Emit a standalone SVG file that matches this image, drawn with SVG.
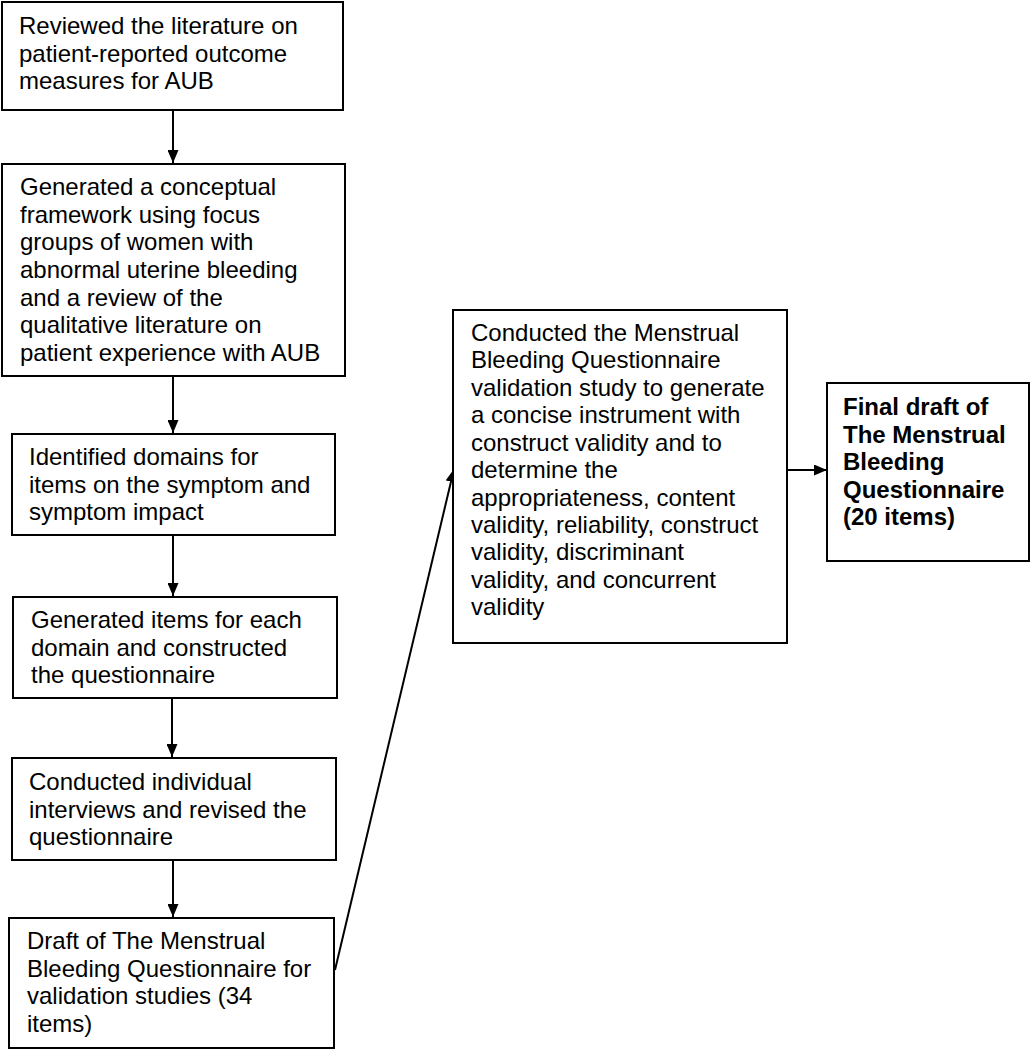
<svg xmlns="http://www.w3.org/2000/svg" width="1031" height="1050" viewBox="0 0 1031 1050">
<defs>
<marker id="ah" markerUnits="userSpaceOnUse" markerWidth="13" markerHeight="11" refX="13" refY="5.5" orient="auto"><path d="M0,0 L13,5.5 L0,11 z" fill="#000"/></marker>
<style>
.box{fill:#fff;stroke:#000;stroke-width:2}
.t{font-family:"Liberation Sans",Arial,sans-serif;font-size:24px;fill:#000}
.b{font-weight:bold}
.c{stroke:#000;stroke-width:2;fill:none;marker-end:url(#ah)}
</style>
</defs>
<rect width="1031" height="1050" fill="#fff"/>
<g id="connectors">
<line class="c" x1="173" y1="110" x2="173" y2="163"/>
<line class="c" x1="173" y1="376" x2="173" y2="433"/>
<line class="c" x1="173" y1="535" x2="173" y2="596"/>
<line class="c" x1="172" y1="698" x2="172" y2="757"/>
<line class="c" x1="173" y1="860" x2="173" y2="917"/>
<line class="c" x1="335" y1="970" x2="454" y2="469"/>
<line class="c" x1="787" y1="470" x2="827" y2="470"/>
</g>
<g id="n1">
<rect class="box" x="2" y="2" width="341" height="108"/>
<text class="t" x="19"><tspan x="19" y="34">Reviewed the literature on</tspan><tspan x="19" y="62">patient-reported outcome</tspan><tspan x="19" y="89">measures for AUB</tspan></text>
</g>
<g id="n2">
<rect class="box" x="2" y="164" width="343" height="212"/>
<text class="t"><tspan x="20" y="195">Generated a conceptual</tspan><tspan x="20" y="223">framework using focus</tspan><tspan x="20" y="250">groups of women with</tspan><tspan x="20" y="278">abnormal uterine bleeding</tspan><tspan x="20" y="306">and a review of the</tspan><tspan x="20" y="333">qualitative literature on</tspan><tspan x="20" y="361">patient experience with AUB</tspan></text>
</g>
<g id="n3">
<rect class="box" x="12" y="434" width="323" height="101"/>
<text class="t"><tspan x="29" y="465">Identified domains for</tspan><tspan x="29" y="493">items on the symptom and</tspan><tspan x="29" y="520">symptom impact</tspan></text>
</g>
<g id="n4">
<rect class="box" x="13" y="597" width="324" height="101"/>
<text class="t"><tspan x="31" y="628">Generated items for each</tspan><tspan x="31" y="656">domain and constructed</tspan><tspan x="31" y="683">the questionnaire</tspan></text>
</g>
<g id="n5">
<rect class="box" x="12" y="758" width="324" height="102"/>
<text class="t"><tspan x="29" y="790">Conducted individual</tspan><tspan x="29" y="818">interviews and revised the</tspan><tspan x="29" y="845">questionnaire</tspan></text>
</g>
<g id="n6">
<rect class="box" x="9" y="918" width="325" height="130"/>
<text class="t"><tspan x="27" y="949">Draft of The Menstrual</tspan><tspan x="27" y="977">Bleeding Questionnaire for</tspan><tspan x="27" y="1004">validation studies (34</tspan><tspan x="27" y="1032">items)</tspan></text>
</g>
<g id="n7">
<rect class="box" x="453" y="310" width="334" height="333"/>
<text class="t"><tspan x="471" y="341">Conducted the Menstrual</tspan><tspan x="471" y="368">Bleeding Questionnaire</tspan><tspan x="471" y="396">validation study to generate</tspan><tspan x="471" y="423">a concise instrument with</tspan><tspan x="471" y="451">construct validity and to</tspan><tspan x="471" y="478">determine the</tspan><tspan x="471" y="506">appropriateness, content</tspan><tspan x="471" y="533">validity, reliability, construct</tspan><tspan x="471" y="560">validity, discriminant</tspan><tspan x="471" y="588">validity, and concurrent</tspan><tspan x="471" y="615">validity</tspan></text>
</g>
<g id="n8">
<rect class="box" x="827" y="383" width="202" height="178"/>
<text class="t b"><tspan x="843" y="415">Final draft of</tspan><tspan x="843" y="443">The Menstrual</tspan><tspan x="843" y="470">Bleeding</tspan><tspan x="843" y="498">Questionnaire</tspan><tspan x="843" y="525">(20 items)</tspan></text>
</g>
</svg>
